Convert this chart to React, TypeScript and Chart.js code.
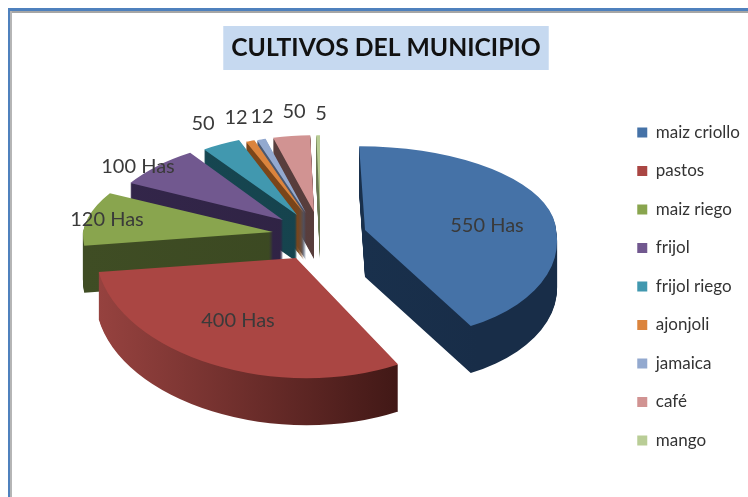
import React, { useEffect, useRef } from "react";
import { Chart, registerables } from "chart.js";

Chart.register(...registerables);

const categories = ["maiz criollo", "pastos", "maiz riego", "frijol", "frijol riego", "ajonjoli", "jamaica", "café", "mango"];
const hectares = [550, 400, 120, 100, 50, 12, 12, 50, 5];
const dataLabels = ["550 Has", "400 Has", "120 Has", "100 Has", "50", "12", "12", "50", "5"];
const topColors = ["#4572a7", "#aa4643", "#89a54e", "#71588f", "#4198af", "#db843d", "#93a9cf", "#d19392", "#b9cd96"];
const sideColors = [
  ["#1b3654", "#182d48"],
  ["#96423f", "#3f1715"],
  ["#3f4d24", "#3a4721"],
  ["#33264a", "#2e2242"],
  ["#174853", "#15414b"],
  ["#80491a", "#75421a"],
  ["#4f5c74", "#475369"],
  ["#5c4140", "#553b3a"],
  ["#6c7a55", "#667350"],
];
// label position relative to the slice apex
const labelShift = [[122, -4], [-58, 63], [-166, -12], [-145, -53], [-94, -91], [-68, -95], [-44, -96], [-20, -100], [1, -98]];
// back-to-front painting order
const paintOrder = [8, 7, 6, 5, 4, 3, 2, 1, 0];

// fake-perspective projection per slice (back half / front half)
const squashUp = [0.425, 0.43, 0.44, 0.42, 0.41, 0.39, 0.39, 0.39, 0.39];
const squashDown = [0.55, 0.61, 0.6, 0.6, 0.6, 0.6, 0.6, 0.6, 0.6];
const shearUp = [0.07, 0, -0.18, -0.16, -0.04, 0, 0, 0, 0];
const shearDown = [0.18, 0.09, 0, 0, 0, 0, 0, 0, 0];
const widen = [0.97, 1.015, 0.965, 0.9, 0.83, 0.79, 0.78, 0.79, 0.79];
const nudgeX = [4, 0, 0, 0, 1, 2, 2, 3, 3];

const RADIUS = 197;
const EXPLODE = 45;
const DEPTH = 47;
const S_APEX = 0.55;
const SHIFT_X = -1.5;
const SHIFT_Y = -50;
const FONT = "Lato, Carlito, sans-serif";
const TITLE_SIZE = 24.7;

function drawHalf(ctx: any, arc: any, sx: number, sy: number, xs: number, s: number, k: number, up: boolean, w: number, h: number) {
  ctx.save();
  ctx.beginPath();
  if (up) ctx.rect(0, 0, w, sy);
  else ctx.rect(0, sy, w, h - sy);
  ctx.clip();
  ctx.translate(sx, sy);
  ctx.transform(xs, 0, k * s, s, 0, 0);
  ctx.translate(-arc.x, -arc.y);
  arc.draw(ctx);
  ctx.restore();
}

const pie3d = {
  id: "pie3d",
  beforeDraw(chart: any) {
    const { ctx, titleBlock } = chart;
    ctx.save();
    ctx.font = `700 ${TITLE_SIZE}px ${FONT}`;
    const tw = ctx.measureText(chart.options.plugins.title.text).width;
    const cx = (titleBlock.left + titleBlock.right) / 2;
    ctx.fillStyle = "#c6d9f0";
    ctx.fillRect(cx - tw / 2 - 8, 26, tw + 16, 44);
    ctx.restore();
  },
  beforeDatasetDraw(chart: any, args: any) {
    const { ctx, width, height } = chart;
    const arcs = args.meta.data;
    const place = (arc: any, i: number) => {
      const mid = (arc.startAngle + arc.endAngle) / 2;
      return {
        sx: Math.round(arc.x + SHIFT_X + nudgeX[i] + Math.cos(mid) * EXPLODE),
        sy: Math.round(arc.y + SHIFT_Y + Math.sin(mid) * EXPLODE * S_APEX),
      };
    };
    for (const i of paintOrder) {
      const arc = arcs[i];
      const { sx, sy } = place(arc, i);
      const base = arc.options;
      const grad = ctx.createLinearGradient(arc.x - RADIUS, 0, arc.x + RADIUS * 0.5, 0);
      grad.addColorStop(0, sideColors[i][0]);
      grad.addColorStop(1, sideColors[i][1]);
      arc.options = Object.assign(Object.create(base), { backgroundColor: grad });
      for (let d = DEPTH; d >= 1; d--) {
        drawHalf(ctx, arc, sx, sy + d, widen[i], squashUp[i], shearUp[i], true, width, height);
        drawHalf(ctx, arc, sx, sy + d, widen[i], squashDown[i], shearDown[i], false, width, height);
      }
      arc.options = base;
      drawHalf(ctx, arc, sx, sy, widen[i], squashUp[i], shearUp[i], true, width, height);
      drawHalf(ctx, arc, sx, sy, widen[i], squashDown[i], shearDown[i], false, width, height);
    }
    ctx.save();
    ctx.font = `400 20px ${FONT}`;
    ctx.fillStyle = "#3a3a3a";
    ctx.textAlign = "center";
    ctx.textBaseline = "middle";
    arcs.forEach((arc: any, i: number) => {
      const { sx, sy } = place(arc, i);
      ctx.fillText(dataLabels[i], sx + labelShift[i][0], sy + labelShift[i][1]);
    });
    ctx.restore();
    return false;
  },
};

export default function App() {
  const ref = useRef<HTMLCanvasElement>(null);
  useEffect(() => {
    const chart = new Chart(ref.current!, {
      type: "pie",
      data: {
        labels: categories,
        datasets: [{ data: hectares, backgroundColor: topColors, borderWidth: 0 }],
      },
      options: {
        animation: false,
        responsive: false,
        radius: RADIUS,
        layout: { padding: { left: 22, right: -2, top: 0, bottom: -76 } },
        plugins: {
          tooltip: { enabled: false },
          title: {
            display: true,
            text: "CULTIVOS DEL MUNICIPIO",
            color: "#111",
            font: { family: FONT, size: TITLE_SIZE, weight: "700" },
            padding: { top: 33, bottom: 13 },
          },
          legend: {
            position: "right",
            labels: {
              boxWidth: 10,
              boxHeight: 10,
              padding: 21.5,
              color: "#333",
              font: { family: FONT, size: 17 },
            },
          },
        },
      } as any,
      plugins: [pie3d as any],
    });
    return () => chart.destroy();
  }, []);
  return (
    <div style={{ position: "fixed", left: 0, top: 0, width: 748, height: 497, overflow: "hidden", background: "#fff" }}>
      <canvas ref={ref} width={748} height={497} style={{ display: "block", position: "absolute", left: 0, top: 0, filter: "blur(0.5px)" }} />
      <div style={{ position: "absolute", left: 8, top: 8, width: 740, height: 3, background: "#4f81bd" }} />
      <div style={{ position: "absolute", left: 11, top: 11, width: 737, height: 2, background: "#a6a6a6" }} />
      <div style={{ position: "absolute", left: 8, top: 8, width: 2, height: 489, background: "#4f81bd" }} />
      <div style={{ position: "absolute", left: 10, top: 11, width: 2, height: 486, background: "#b5b5b5" }} />
    </div>
  );
}
